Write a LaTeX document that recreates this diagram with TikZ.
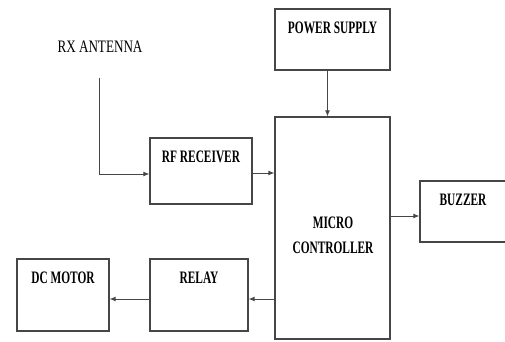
\documentclass[tikz,border=0pt]{standalone}
\usepackage{fontspec}
\setmainfont{Liberation Serif}
\newfontfamily\blkfont{Liberation Serif}[FakeStretch=0.65]
\newfontfamily\antfont{Liberation Serif}[FakeStretch=0.75]
\usetikzlibrary{arrows.meta}
\definecolor{linegray}{RGB}{70,70,70}
\tikzset{
  blk/.style={draw=linegray, line width=1.3pt, inner sep=0pt, text height=24pt,
    font=\blkfont\bfseries\fontsize{17.5}{22}\selectfont},
  conn/.style={draw=linegray, line width=0.9pt, -{Latex[length=6pt,width=5pt]}}
}

\begin{document}
\begin{tikzpicture}[x=1pt, y=-1pt]
        \useasboundingbox (0,0) rectangle (505,341);
        \node[blk, minimum width=115pt, text depth=37pt] (power) at (332.5,39.5) {POWER SUPPLY};
        \node[blk, minimum width=102pt, text depth=42pt] (rf) at (201,171) {RF RECEIVER};
        \node[blk, minimum width=115pt, minimum height=222pt, text height=, text depth=] (micro) at (332.5,228) {};
        \node[font=\blkfont\bfseries\fontsize{17.5}{25}\selectfont, align=center] (microtxt) at (333,235) {MICRO\\CONTROLLER};
        \node[blk, minimum width=86pt, text depth=37pt] (buzzer) at (463,211.5) {BUZZER};
        \node[blk, minimum width=92pt, text depth=48pt] (motor) at (63,295) {DC MOTOR};
        \node[blk, minimum width=98pt, text depth=48pt] (relay) at (199,295) {RELAY};
        \node[font=\antfont\fontsize{17.5}{22}\selectfont] (antenna) at (100,47) {RX ANTENNA};
        \coordinate (ant) at (99,78);
        \draw[conn] (ant) |- ([yshift=-3pt]rf.west);
        \draw[conn] ([xshift=-5pt]power.south) -- ([xshift=-5pt]power.south |- micro.north);
        \draw[conn] ([yshift=-2pt]rf.east) -- ([yshift=-2pt]rf.east -| micro.west);
        \draw[conn] ([yshift=-4.5pt]buzzer.west -| micro.east) -- ([yshift=-4.5pt]buzzer.west);
        \draw[conn] ([yshift=-4pt]relay.east -| micro.west) -- ([yshift=-4pt]relay.east);
        \draw[conn] ([yshift=-4pt]relay.west) -- ([yshift=-4pt]motor.east);
    \end{tikzpicture}
\end{document}
